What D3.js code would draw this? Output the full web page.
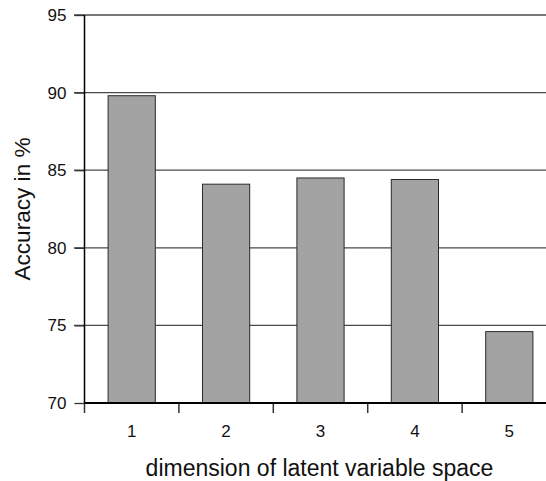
<!DOCTYPE html>
<html>
<head>
<meta charset="utf-8">
<script src="https://cdn.jsdelivr.net/npm/d3@7"></script>
<style>
  html, body { margin: 0; padding: 0; background: #fff; }
  svg { display: block; font-family: "Liberation Sans", Arial, Helvetica, sans-serif; }
</style>
</head>
<body>
<svg id="chart" width="546" height="481"></svg>
<script>
const categories = ["1", "2", "3", "4", "5"];
const accuracy = [89.8, 84.1, 84.5, 84.4, 74.6];
const yTicks = [70, 75, 80, 85, 90, 95];
const xTitle = "dimension of latent variable space";
const yTitle = "Accuracy in %";

const svg = d3.select("#chart");
const plotLeft = 84.5, plotRight = 556.5, plotTop = 15, plotBottom = 403;

const x = d3.scaleBand().domain(categories).range([plotLeft, plotRight])
  .paddingInner(0.5).paddingOuter(0.25);
const y = d3.scaleLinear().domain([70, 95]).range([plotBottom, plotTop]);

// gridlines
svg.append("g").selectAll("line").data(yTicks.filter(d => d > 70)).join("line")
  .attr("x1", 74).attr("x2", 546)
  .attr("y1", d => y(d)).attr("y2", d => y(d))
  .attr("stroke", "#4a4a4a").attr("stroke-width", 1.3);

// bars
svg.append("g").selectAll("rect").data(categories).join("rect")
  .attr("x", d => x(d))
  .attr("width", x.bandwidth())
  .attr("y", (d, i) => y(accuracy[i]))
  .attr("height", (d, i) => y(70) - y(accuracy[i]))
  .attr("fill", "#a3a3a3")
  .attr("stroke", "#2a2a2a").attr("stroke-width", 1);

// y axis
const yAxis = svg.append("g").attr("transform", `translate(${plotLeft},0)`)
  .call(d3.axisLeft(y).tickValues(yTicks).tickSize(10).tickPadding(8).tickFormat(d3.format("d")));
yAxis.select(".domain").remove();
yAxis.selectAll(".tick line").attr("stroke", "#333").attr("stroke-width", 1.3);
yAxis.selectAll(".tick text").attr("font-size", 17).attr("fill", "#111")
  .attr("font-family", "Liberation Sans, Arial, sans-serif");
svg.append("line").attr("x1", plotLeft).attr("x2", plotLeft).attr("y1", plotTop).attr("y2", plotBottom)
  .attr("stroke", "#000").attr("stroke-width", 1.5);

// x axis
const xAxis = svg.append("g").attr("transform", `translate(0,${plotBottom})`)
  .call(d3.axisBottom(x).tickSize(0).tickPadding(22));
xAxis.select(".domain").remove();
xAxis.selectAll(".tick text").attr("font-size", 17).attr("fill", "#111")
  .attr("font-family", "Liberation Sans, Arial, sans-serif");
const step = x.step();
svg.append("g").selectAll("line").data(categories).join("line")
  .attr("x1", d => x(d) + x.bandwidth() / 2 - step / 2)
  .attr("x2", d => x(d) + x.bandwidth() / 2 - step / 2)
  .attr("y1", plotBottom).attr("y2", plotBottom + 10)
  .attr("stroke", "#333").attr("stroke-width", 1.5);
svg.append("line").attr("x1", plotLeft).attr("x2", 546).attr("y1", plotBottom).attr("y2", plotBottom)
  .attr("stroke", "#000").attr("stroke-width", 2);

// titles
svg.append("text").attr("x", (plotLeft + plotRight) / 2 - 1).attr("y", 476)
  .attr("text-anchor", "middle").attr("font-size", 23).attr("fill", "#111")
  .text(xTitle);
svg.append("text").attr("transform", `translate(29.5,${(plotTop + plotBottom) / 2}) rotate(-90)`)
  .attr("text-anchor", "middle").attr("font-size", 22.6).attr("fill", "#111")
  .text(yTitle);
</script>
</body>
</html>
